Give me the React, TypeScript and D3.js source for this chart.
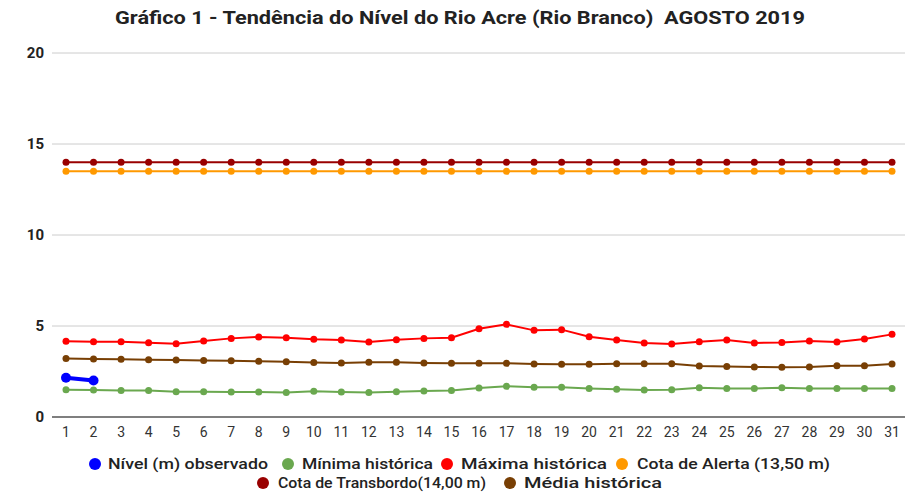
import React, { useEffect, useRef } from 'react';
import * as d3 from 'd3';

const days = d3.range(1, 32).map(String);
const observed = [2.16, 2.01];
const minHist = [1.5, 1.48, 1.46, 1.46, 1.39, 1.39, 1.37, 1.37, 1.35, 1.41, 1.37, 1.35, 1.39, 1.43, 1.45,
  1.59, 1.69, 1.63, 1.63, 1.57, 1.52, 1.48, 1.5, 1.61, 1.56, 1.57, 1.61, 1.57, 1.56, 1.56, 1.56];
const maxHist = [4.16, 4.14, 4.14, 4.08, 4.03, 4.18, 4.32, 4.4, 4.36, 4.27, 4.23, 4.12, 4.25, 4.32, 4.36,
  4.85, 5.09, 4.76, 4.8, 4.41, 4.23, 4.07, 4.01, 4.14, 4.23, 4.07, 4.1, 4.18, 4.12, 4.29, 4.54];
const alertLevel = days.map(() => 13.5);
const overflowLevel = days.map(() => 14);
const meanHist = [3.22, 3.19, 3.17, 3.15, 3.13, 3.11, 3.09, 3.06, 3.04, 2.99, 2.97, 3.01, 3.01, 2.97, 2.95,
  2.95, 2.95, 2.91, 2.9, 2.9, 2.93, 2.93, 2.93, 2.8, 2.77, 2.75, 2.73, 2.75, 2.82, 2.82, 2.91];
const yTicks = [0, 5, 10, 15, 20];

const series = [
  { name: 'Nível (m) observado', color: '#0000ff', values: observed, width: 4, r: 5 },
  { name: 'Mínima histórica', color: '#6aa84f', values: minHist, width: 2, r: 3.5 },
  { name: 'Máxima histórica', color: '#ff0000', values: maxHist, width: 2, r: 3.5 },
  { name: 'Cota de Alerta (13,50 m)', color: '#ff9900', values: alertLevel, width: 2, r: 3.5 },
  { name: 'Cota de Transbordo(14,00 m)', color: '#990000', values: overflowLevel, width: 2, r: 3.5 },
  { name: 'Média histórica', color: '#783f04', values: meanHist, width: 2, r: 3.5 },
];

// legend placement [dotX, textX, textWidth, y]
const legendPos = [
  [95, 108, 160, 464], [288, 302, 131, 464], [447, 461, 146, 464], [622, 637, 193, 464],
  [263, 278, 208, 483], [510, 524, 138, 483],
];

const W = 912, H = 492;

export default function App() {
  const ref = useRef<SVGSVGElement>(null);

  useEffect(() => {
    const svg = d3.select(ref.current);
    svg.selectAll('*').remove();
    const font = 'Roboto, sans-serif';

    const x = d3.scalePoint().domain(days).range([66, 892]);
    const y = d3.scaleLinear().domain([0, 20]).range([417, 53]);

    svg.append('text')
      .attr('x', 460).attr('y', 24).attr('text-anchor', 'middle')
      .attr('font-family', font).attr('font-weight', 'bold').attr('font-size', 18)
      .attr('fill', '#222').style('white-space', 'pre')
      .attr('textLength', 690).attr('lengthAdjust', 'spacingAndGlyphs')
      .text('Gráfico 1 - Tendência do Nível do Rio Acre (Rio Branco)  AGOSTO 2019');

    const grid = svg.append('g');
    yTicks.forEach(t => {
      grid.append('line')
        .attr('x1', 52).attr('x2', 905).attr('y1', y(t)).attr('y2', y(t))
        .attr('stroke', t === 0 ? '#555' : '#ccc').attr('stroke-width', t === 0 ? 1.5 : 1);
      grid.append('text')
        .attr('x', 44).attr('y', y(t)).attr('dy', '0.35em').attr('text-anchor', 'end')
        .attr('font-family', font).attr('font-weight', 'bold').attr('font-size', 15)
        .attr('fill', '#222').text(t);
    });

    days.forEach(d => {
      svg.append('text')
        .attr('x', x(d)!).attr('y', 437).attr('text-anchor', 'middle')
        .attr('font-family', font).attr('font-size', 14).attr('fill', '#333')
        .text(d);
    });

    const line = d3.line<number>()
      .x((_, i) => x(days[i])!)
      .y(v => y(v));

    // draw back-to-front so observed sits on top
    [...series].reverse().forEach(s => {
      const g = svg.append('g');
      g.append('path')
        .attr('d', line(s.values))
        .attr('fill', 'none').attr('stroke', s.color).attr('stroke-width', s.width);
      g.selectAll('circle').data(s.values).enter().append('circle')
        .attr('cx', (_, i) => x(days[i])!)
        .attr('cy', v => y(v))
        .attr('r', s.r).attr('fill', s.color);
    });

    const legend = svg.append('g');
    series.forEach((s, i) => {
      const [cx, tx, tw, ly] = legendPos[i];
      legend.append('circle').attr('cx', cx).attr('cy', ly).attr('r', 6).attr('fill', s.color);
      legend.append('text')
        .attr('x', tx).attr('y', ly).attr('dy', '0.35em')
        .attr('font-family', font).attr('font-weight', 500).attr('font-size', 14.5)
        .attr('fill', '#222')
        .attr('textLength', tw).attr('lengthAdjust', 'spacingAndGlyphs')
        .text(s.name);
    });
  }, []);

  return (
    <svg ref={ref} width={W} height={H}
      style={{ position: 'absolute', top: 0, left: 0, display: 'block', background: '#fff' }} />
  );
}
